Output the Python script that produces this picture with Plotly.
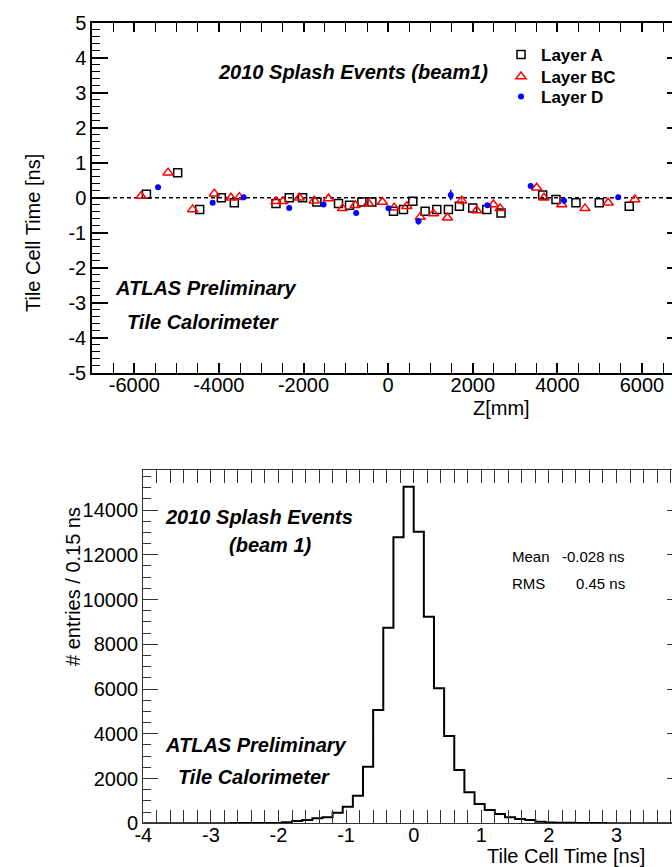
import numpy as np
import plotly.graph_objects as go

W, H = 672, 867


def px(x):
    return x / W


def py(y):
    return 1 - y / H


# ---------------- top panel data: cell time vs Z ----------------
Z_A = [-5714, -4975, -4455, -3943, -3636, -2652, -2338, -2023, -1684, -1173, -913, -622, -385,
       126, 362, 583, 874, 1150, 1424, 1684, 2000, 2331, 2668, 3652, 3967, 4439, 4990, 5698]
T_A = [0.10, 0.72, -0.33, 0.00, -0.14, -0.16, 0.00, 0.00, -0.12, -0.16, -0.21, -0.12, -0.12,
       -0.38, -0.33, -0.10, -0.38, -0.33, -0.33, -0.24, -0.29, -0.33, -0.43, 0.08, -0.05, -0.14, -0.14, -0.24]

Z_BC = [-5840, -5202, -4621, -4109, -3715, -3518, -2652, -2487, -2102, -1747, -1410, -1079, -779, -465, -135,
        142, 441, 756, 1071, 1401, 1740, 2094, 2487, 2645, 3511, 3684, 4102, 4652, 5202, 5832]
T_BC = [0.05, 0.72, -0.33, 0.12, 0.00, 0.02, -0.10, -0.10, 0.00, -0.08, -0.02, -0.30, -0.21, -0.16, -0.12,
        -0.28, -0.24, -0.55, -0.45, -0.57, -0.08, -0.36, -0.19, -0.30, 0.29, 0.00, -0.19, -0.30, -0.14, -0.05]
E_BC = [0, 0, 0, 0, 0, 0, 0, 0, 0, 0, 0, 0, 0, 0, 0,
        0, 0, 0, 0, 0, 0.12, 0, 0, 0, 0, 0, 0, 0, 0, 0]

Z_D = [-5438, -4148, -3416, -2338, -1527, -756, 8, 716, 1480, 2346, 3369, 4156, 5438]
T_D = [0.30, -0.14, 0.02, -0.29, -0.19, -0.43, -0.30, -0.67, 0.08, -0.21, 0.34, -0.08, 0.02]
E_D = [0, 0, 0, 0, 0, 0, 0, 0.10, 0.15, 0, 0, 0, 0]

TOP_X_TICKS = [-6000, -4000, -2000, 0, 2000, 4000, 6000]
TOP_X_LABELS = ["-6000", "-4000", "-2000", "0", "2000", "4000", "6000"]
TOP_Y_TICKS = [5, 4, 3, 2, 1, 0, -1, -2, -3, -4, -5]
TOP_Y_LABELS = ["5", "4", "3", "2", "1", "0", "-1", "-2", "-3", "-4", "-5"]

# ---------------- bottom panel data: histogram ----------------
HIST_LOW = -4.05
HIST_WIDTH = 0.15
COUNTS = [0, 0, 0, 0, 4, 4, 5, 6, 6, 8, 9, 10, 12, 15, 45, 103, 148, 223, 268, 475,
          743, 1235, 2530, 5063, 8740, 12780, 15040, 13030, 9232, 6032, 3901, 2382, 1385, 862,
          594, 416, 268, 192, 148, 72, 40, 30, 22, 15, 10, 8, 6, 5, 4, 3, 3, 2, 2, 1]
HIST_X_TICKS = [-4, -3, -2, -1, 0, 1, 2, 3]
HIST_X_LABELS = ["-4", "-3", "-2", "-1", "0", "1", "2", "3"]
HIST_Y_TICKS = [0, 2000, 4000, 6000, 8000, 10000, 12000, 14000]
HIST_Y_LABELS = ["0", "2000", "4000", "6000", "8000", "10000", "12000", "14000"]
STAT_LABELS = ["Mean", "RMS"]
STAT_VALUES = ["-0.028 ns", "0.45 ns"]

FONT = "Liberation Sans, Arial, sans-serif"

fig = go.Figure()

fig.add_trace(go.Scatter(
    x=Z_A, y=T_A, mode="markers", name="<b>Layer A</b>", legend="legend",
    marker=dict(symbol="square-open", size=8, color="black", line=dict(width=1.5)),
    xaxis="x", yaxis="y"))
fig.add_trace(go.Scatter(
    x=Z_BC, y=T_BC, mode="markers", name="<b>Layer BC</b>", legend="legend2",
    error_y=dict(type="data", array=E_BC, color="red", thickness=1.2, width=0),
    marker=dict(symbol="triangle-up-open", size=9, color="red", line=dict(width=1.5)),
    xaxis="x", yaxis="y"))
fig.add_trace(go.Scatter(
    x=Z_D, y=T_D, mode="markers", name="<b>Layer D</b>", legend="legend3",
    error_y=dict(type="data", array=E_D, color="blue", thickness=1.5, width=0),
    marker=dict(symbol="circle", size=6, color="blue"),
    xaxis="x", yaxis="y"))
fig.add_trace(go.Scatter(x=[], y=[], xaxis="x", yaxis="y3", showlegend=False, hoverinfo="skip"))

edges = HIST_LOW + HIST_WIDTH * np.arange(len(COUNTS) + 1)
steps_y = list(COUNTS) + [COUNTS[-1]]
fig.add_trace(go.Scatter(
    x=edges, y=steps_y, mode="lines", line=dict(shape="hv", color="black", width=2),
    showlegend=False, xaxis="x2", yaxis="y2"))
fig.add_trace(go.Scatter(x=[], y=[], xaxis="x2", yaxis="y4", showlegend=False, hoverinfo="skip"))

tickfont = dict(family=FONT, size=20, color="black")
legfont = dict(family=FONT, size=17, color="black")


def leg(ycen):
    return dict(x=px(501), y=py(ycen), xanchor="left", yanchor="middle",
                bgcolor="rgba(0,0,0,0)", font=legfont, itemwidth=30)


fig.update_layout(
    width=W, height=H,
    margin=dict(l=0, r=0, t=0, b=0, autoexpand=False),
    paper_bgcolor="white", plot_bgcolor="white",
    font=dict(family=FONT, color="black"),
    showlegend=True,
    legend=leg(55), legend2=leg(77), legend3=leg(97),
    xaxis=dict(domain=[px(92), 1], range=[-7000, 6709], anchor="y",
               tickmode="array", tickvals=TOP_X_TICKS, ticktext=TOP_X_LABELS,
               ticks="inside", ticklen=10, tickwidth=1.5, tickcolor="black", ticklabelstandoff=-7,
               minor=dict(tickmode="linear", tick0=0, dtick=500, ticklen=5, ticks="inside",
                          tickwidth=1.2, tickcolor="black"),
               showline=True, linewidth=1.5, linecolor="black", mirror="allticks",
               showgrid=False, zeroline=False, tickfont=tickfont),
    yaxis=dict(domain=[py(373), py(22.7)], range=[-5, 5], anchor="x",
               tickmode="array", tickvals=TOP_Y_TICKS, ticktext=TOP_Y_LABELS,
               ticks="inside", ticklen=16, tickwidth=1.5, tickcolor="black",
               minor=dict(tickmode="linear", tick0=0, dtick=0.2, ticklen=8, ticks="inside",
                          tickwidth=1.2, tickcolor="black"),
               showline=True, linewidth=1.5, linecolor="black",
               showgrid=False, zeroline=False, tickfont=tickfont),
    yaxis3=dict(overlaying="y", side="right", anchor="x", range=[-5, 5],
                tick0=0, dtick=1, ticks="inside", ticklen=5, tickwidth=1.5, tickcolor="black",
                showticklabels=False, showline=False, showgrid=False, zeroline=False),
    xaxis2=dict(domain=[px(143.3), 1], range=[-4, 3.821], anchor="y2",
                tickmode="array", tickvals=HIST_X_TICKS, ticktext=HIST_X_LABELS,
                ticks="inside", ticklen=13, tickwidth=1.2, tickcolor="#333", ticklabelstandoff=-6,
                minor=dict(tickmode="linear", tick0=0, dtick=0.2, ticklen=6, ticks="inside",
                           tickwidth=1, tickcolor="#333"),
                showline=True, linewidth=1.2, linecolor="#333", mirror="allticks",
                showgrid=False, zeroline=False, tickfont=tickfont),
    yaxis2=dict(domain=[py(823.3), py(470)], range=[0, 15790], anchor="x2",
                tickmode="array", tickvals=HIST_Y_TICKS, ticktext=HIST_Y_LABELS,
                ticks="inside", ticklen=15, tickwidth=1.2, tickcolor="#333",
                minor=dict(tickmode="linear", tick0=0, dtick=500, ticklen=8, ticks="inside",
                           tickwidth=1, tickcolor="#333"),
                showline=True, linewidth=1.2, linecolor="#333",
                showgrid=False, zeroline=False, tickfont=tickfont),
    yaxis4=dict(overlaying="y2", side="right", anchor="x2", range=[0, 15790],
                tick0=0, dtick=2000, ticks="inside", ticklen=5, tickwidth=1.2, tickcolor="#333",
                showticklabels=False, showline=False, showgrid=False, zeroline=False),
)

# dashed zero line
fig.add_shape(type="line", xref="x domain", yref="y", x0=0, x1=1, y0=0, y1=0,
              line=dict(color="black", width=1.5, dash="4px,3px"), layer="below")


def ann(text, x, y, size=20, xanchor="center", angle=0):
    fig.add_annotation(text=text, x=px(x), y=py(y), xref="paper", yref="paper",
                       xanchor=xanchor, yanchor="middle", showarrow=False, textangle=angle,
                       font=dict(family=FONT, size=size, color="black"))


# top panel text
ann("<b><i>2010 Splash Events (beam1)</i></b>", 353, 72)
ann("<b><i>ATLAS Preliminary</i></b>", 113, 288, xanchor="left")
ann("<b><i>Tile Calorimeter</i></b>", 125, 322, xanchor="left")
ann("Tile Cell Time [ns]", 33, 233, angle=-90)
ann("Z[mm]", 501, 408)

# bottom panel text
ann("<b><i>2010 Splash Events</i></b>", 163, 517, xanchor="left")
ann("<b><i>(beam 1)</i></b>", 270, 545)
ann("<b><i>ATLAS Preliminary</i></b>", 163, 745, xanchor="left")
ann("<b><i>Tile Calorimeter</i></b>", 176, 777, xanchor="left")
ann("# entries / 0.15 ns", 73, 587, angle=-90)
ann("Tile Cell Time [ns]", 566, 855.5)
for i, (lab, val) in enumerate(zip(STAT_LABELS, STAT_VALUES)):
    ann(lab, 510, 556 + 27 * i, size=15, xanchor="left")
    ann(val, 627, 556 + 27 * i, size=15, xanchor="right")

fig.write_html("out.html")
